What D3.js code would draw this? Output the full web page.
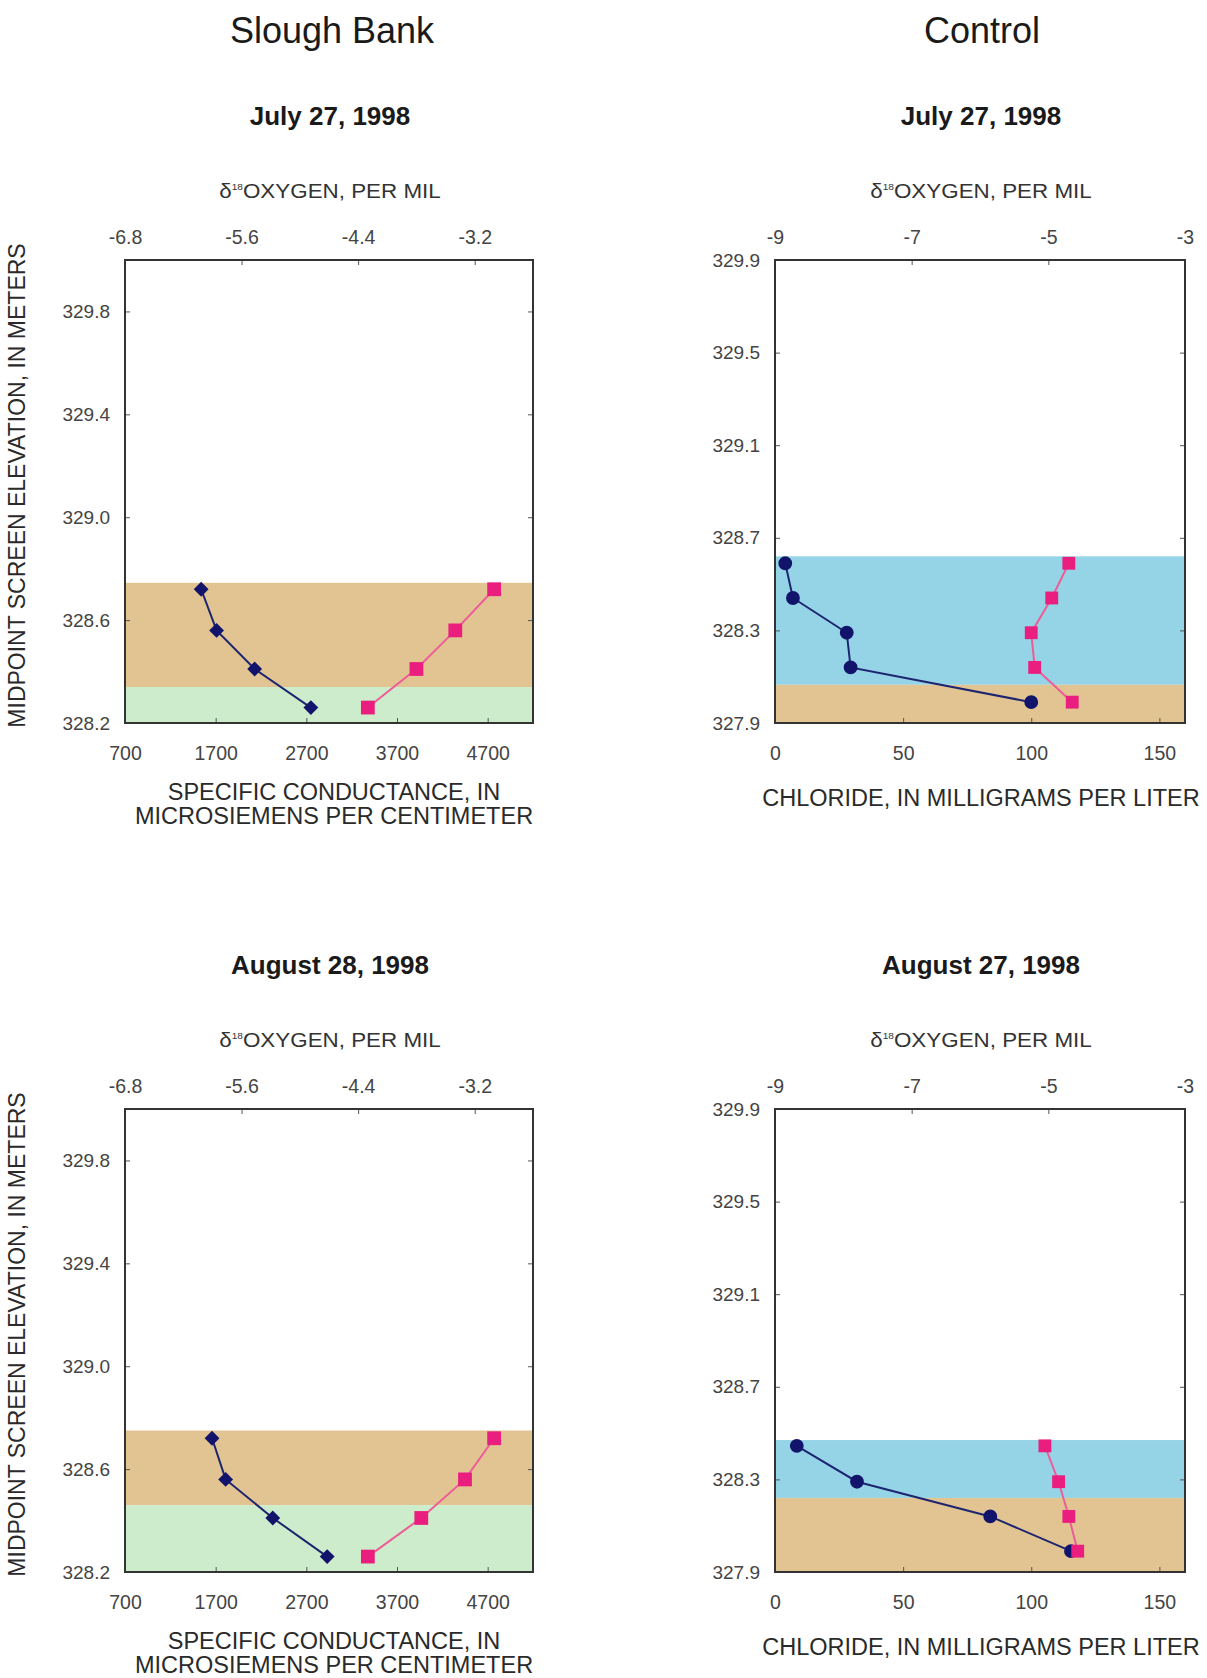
<!DOCTYPE html>
<html>
<head>
<meta charset="utf-8">
<script src="https://cdn.jsdelivr.net/npm/d3@7"></script>
<style>
  html, body { margin: 0; padding: 0; background: #fff; }
  svg { display: block; font-family: "Liberation Sans", Arial, Helvetica, sans-serif; }
</style>
</head>
<body>
<svg id="fig" width="1207" height="1678"></svg>
<script>
// ---- Slough Bank wells ----
const sloughElevation = [328.72, 328.56, 328.41, 328.26];
const sloughCondJuly = [1540, 1710, 2130, 2750];
const sloughO18July = [-3.0, -3.4, -3.8, -4.3];
const sloughCondAug = [1660, 1810, 2330, 2930];
const sloughO18Aug = [-3.0, -3.3, -3.75, -4.3];

// ---- Control wells ----
const controlElevationJuly = [328.59, 328.44, 328.29, 328.14, 327.99];
const controlClJuly = [4, 7, 28, 29.5, 100];
const controlO18July = [-4.7, -4.95, -5.25, -5.2, -4.65];
const controlElevationAug = [328.445, 328.29, 328.14, 327.99];
const controlClAug = [8.5, 32, 84, 115.5];
const controlO18Aug = [-5.05, -4.85, -4.7, -4.57];

// ---- shaded layers [bottom, top, kind] ----
const sloughBandsJuly = [[328.34, 328.745, "tan"], [328.2, 328.34, "green"]];
const sloughBandsAug = [[328.46, 328.75, "tan"], [328.2, 328.46, "green"]];
const controlBandsJuly = [[328.065, 328.62, "blue"], [327.9, 328.065, "tan"]];
const controlBandsAug = [[328.22, 328.47, "blue"], [327.9, 328.22, "tan"]];

// ---- axis domains and tick labels ----
const sloughElevDomain = [328.2, 330.0];
const sloughElevTicks = [328.2, 328.6, 329.0, 329.4, 329.8];
const sloughCondDomain = [700, 5200];
const sloughCondTicks = [700, 1700, 2700, 3700, 4700];
const sloughO18Domain = [-6.8, -2.6];
const sloughO18Ticks = [-6.8, -5.6, -4.4, -3.2];
const controlElevDomain = [327.9, 329.9];
const controlElevTicks = [327.9, 328.3, 328.7, 329.1, 329.5, 329.9];
const controlClDomain = [0, 160];
const controlClTicks = [0, 50, 100, 150];
const controlO18Domain = [-9, -3];
const controlO18Ticks = [-9, -7, -5, -3];

const dateTitles = ["July 27, 1998", "July 27, 1998", "August 28, 1998", "August 27, 1998"];
const columnTitles = ["Slough Bank", "Control"];

const bandColor = { tan: "#e1c491", green: "#cdeccb", blue: "#95d4e6" };
const navy = "#12146b", navyLine = "#1d2570";
const pink = "#ea1e7e", pinkLine = "#ee5c98";

// plain hyphen-minus in tick labels
const fmt1 = d => d.toFixed(1);
const fmt0 = d => String(d);

const svg = d3.select("#fig");

const cols = [{ L: 125, R: 533, cx: 330 }, { L: 775, R: 1185, cx: 981 }];
const rows = [{ T: 260, B: 723 }, { T: 1109, B: 1572 }];

// column headings
columnTitles.forEach((t, i) => {
  svg.append("text").attr("x", i === 0 ? 332 : 982).attr("y", 43)
    .attr("text-anchor", "middle").attr("font-size", 36).attr("fill", "#1a1a1a").text(t);
});

// y axis titles
rows.forEach(r => {
  svg.append("text")
    .attr("transform", `translate(25,${(r.T + r.B) / 2 - 6}) rotate(-90)`)
    .attr("text-anchor", "middle").attr("font-size", 23).attr("fill", "#2a2a2a")
    .text("MIDPOINT SCREEN ELEVATION, IN METERS");
});

const panels = [
  { col: 0, row: 0, title: dateTitles[0], elev: sloughElevation, low: sloughCondJuly, top: sloughO18July,
    bands: sloughBandsJuly, kind: "slough" },
  { col: 1, row: 0, title: dateTitles[1], elev: controlElevationJuly, low: controlClJuly, top: controlO18July,
    bands: controlBandsJuly, kind: "control" },
  { col: 0, row: 1, title: dateTitles[2], elev: sloughElevation, low: sloughCondAug, top: sloughO18Aug,
    bands: sloughBandsAug, kind: "slough" },
  { col: 1, row: 1, title: dateTitles[3], elev: controlElevationAug, low: controlClAug, top: controlO18Aug,
    bands: controlBandsAug, kind: "control" }
];

panels.forEach(p => {
  const c = cols[p.col], r = rows[p.row];
  const slough = p.kind === "slough";
  const y = d3.scaleLinear().domain(slough ? sloughElevDomain : controlElevDomain).range([r.B, r.T]);
  const xLow = d3.scaleLinear().domain(slough ? sloughCondDomain : controlClDomain).range([c.L, c.R]);
  const xTop = d3.scaleLinear().domain(slough ? sloughO18Domain : controlO18Domain).range([c.L, c.R]);
  const g = svg.append("g");

  // date heading
  g.append("text").attr("x", c.cx).attr("y", r.T - 135).attr("text-anchor", "middle")
    .attr("font-size", 26).attr("font-weight", "bold").attr("fill", "#1a1a1a").text(p.title);

  // shaded layers
  g.selectAll("rect.band").data(p.bands).join("rect").attr("class", "band")
    .attr("x", c.L).attr("width", c.R - c.L)
    .attr("y", d => y(d[1])).attr("height", d => y(d[0]) - y(d[1]))
    .attr("fill", d => bandColor[d[2]]);

  // axes with inward ticks
  const tickStyle = sel => {
    sel.select(".domain").remove();
    sel.selectAll(".tick line").attr("stroke", "#555").attr("stroke-width", 1);
    sel.selectAll(".tick text").attr("fill", "#444").attr("font-family", "Liberation Sans, Arial, sans-serif");
  };
  g.append("g").attr("transform", `translate(${c.L},0)`)
    .call(d3.axisLeft(y).tickValues(slough ? sloughElevTicks : controlElevTicks)
      .tickFormat(fmt1).tickSize(-5).tickPadding(15))
    .call(tickStyle).call(s => s.selectAll("text").attr("font-size", 19));
  g.append("g").attr("transform", `translate(${c.R},0)`)
    .call(d3.axisRight(y).tickValues(slough ? sloughElevTicks : controlElevTicks)
      .tickFormat("").tickSize(-5))
    .call(tickStyle);
  g.append("g").attr("transform", `translate(0,${r.B})`)
    .call(d3.axisBottom(xLow).tickValues(slough ? sloughCondTicks : controlClTicks)
      .tickFormat(fmt0).tickSize(-5).tickPadding(23))
    .call(tickStyle).call(s => s.selectAll("text").attr("font-size", 19.5));
  g.append("g").attr("transform", `translate(0,${r.T})`)
    .call(d3.axisTop(xTop).tickValues(slough ? sloughO18Ticks : controlO18Ticks)
      .tickFormat(slough ? fmt1 : fmt0).tickSize(-5).tickPadding(16))
    .call(tickStyle).call(s => s.selectAll("text").attr("font-size", 19.5));

  // frame
  g.append("rect").attr("x", c.L).attr("y", r.T).attr("width", c.R - c.L).attr("height", r.B - r.T)
    .attr("fill", "none").attr("stroke", "#333").attr("stroke-width", 2);

  // top axis title: δ18OXYGEN, PER MIL
  const tt = g.append("text")
    .attr("transform", `translate(${c.cx},${r.T - 62}) scale(1.12,1)`)
    .attr("text-anchor", "middle").attr("font-size", 20).attr("fill", "#333");
  tt.append("tspan").text("δ");
  tt.append("tspan").attr("font-size", 9).attr("dy", -8).text("18");
  tt.append("tspan").attr("dy", 8).text("OXYGEN, PER MIL");

  // bottom axis title
  if (slough) {
    g.append("text").attr("x", c.cx + 4).attr("y", r.B + 77).attr("text-anchor", "middle")
      .attr("font-size", 23.5).attr("fill", "#2a2a2a").text("SPECIFIC CONDUCTANCE, IN");
    g.append("text").attr("x", c.cx + 4).attr("y", r.B + 101).attr("text-anchor", "middle")
      .attr("font-size", 23.5).attr("fill", "#2a2a2a").text("MICROSIEMENS PER CENTIMETER");
  } else {
    g.append("text").attr("x", c.cx).attr("y", r.B + 83).attr("text-anchor", "middle")
      .attr("font-size", 23.5).attr("fill", "#2a2a2a").text("CHLORIDE, IN MILLIGRAMS PER LITER");
  }

  // blue series on the bottom scale
  const lowPts = p.elev.map((e, i) => [xLow(p.low[i]), y(e)]);
  g.append("path").attr("d", d3.line()(lowPts)).attr("fill", "none")
    .attr("stroke", navyLine).attr("stroke-width", 2);
  const lowSym = slough
    ? d3.symbol().type(d3.symbolSquare).size(110)
    : d3.symbol().type(d3.symbolCircle).size(150);
  g.selectAll("path.low").data(lowPts).join("path").attr("class", "low")
    .attr("d", lowSym)
    .attr("transform", d => `translate(${d[0]},${d[1]})${slough ? " rotate(45)" : ""}`)
    .attr("fill", navy);

  // pink series on the top scale
  const topPts = p.elev.map((e, i) => [xTop(p.top[i]), y(e)]);
  g.append("path").attr("d", d3.line()(topPts)).attr("fill", "none")
    .attr("stroke", pinkLine).attr("stroke-width", 2);
  g.selectAll("path.top").data(topPts).join("path").attr("class", "top")
    .attr("d", d3.symbol().type(d3.symbolSquare).size(slough ? 190 : 165))
    .attr("transform", d => `translate(${d[0]},${d[1]})`)
    .attr("fill", pink);
});
</script>
</body>
</html>
